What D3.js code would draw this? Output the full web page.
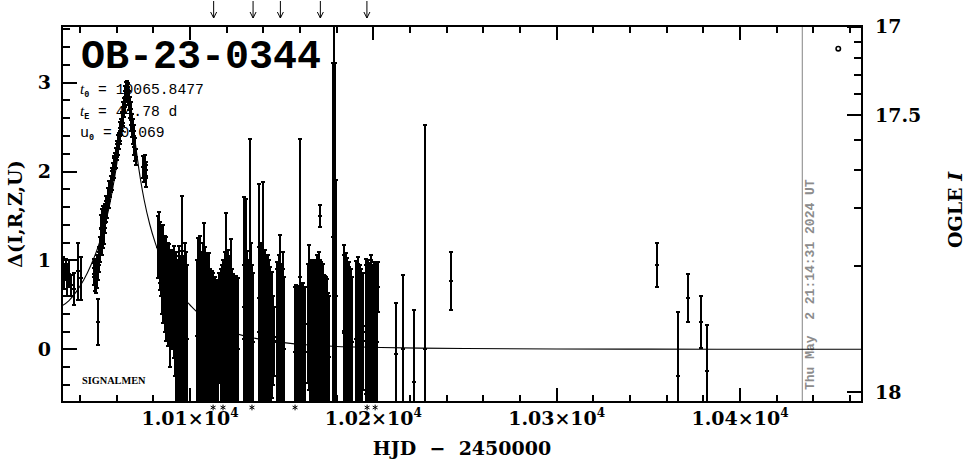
<!DOCTYPE html>
<html><head><meta charset="utf-8">
<script src="https://cdn.jsdelivr.net/npm/d3@7"></script>
<style>html,body{margin:0;padding:0;background:#fff;}svg{display:block;}</style>
</head><body><svg id="c" width="965" height="459"></svg>
<script>
// ---------------- data: [HJD-2450000, Delta, sigma] ----------------
const baselinePts = [[10030.5,0.88,0.16],[10031.3,0.82,0.14],[10032.2,0.90,0.12],[10033.0,0.78,0.18],[10033.9,0.85,0.15],[10035.0,0.72,0.12],[10036.6,0.68,0.18],[10038.9,0.88,0.32],[10040.7,0.80,0.24]];
const preRise = [[10047.6,0.85,0.12],[10047.9,0.92,0.10],[10048.2,0.80,0.14],[10048.5,0.88,0.11],[10048.8,0.76,0.12],[10049.1,0.95,0.11],[10049.4,0.84,0.15],[10049.7,0.31,0.26],[10050.0,0.90,0.12],[10050.3,0.98,0.11],[10050.6,1.05,0.10]];
const rising = [[10050.9,1.12,0.14],[10051.3,1.22,0.15],[10051.6,1.35,0.16],[10051.9,1.18,0.12],[10052.2,1.40,0.18],[10052.5,1.28,0.14],[10052.8,1.45,0.16],[10053.1,1.33,0.15],[10053.4,1.50,0.14],[10053.7,1.42,0.11],[10054.0,1.55,0.12],[10054.4,1.62,0.11],[10054.8,1.60,0.12],[10055.2,1.70,0.11],[10055.6,1.68,0.09],[10056.0,1.78,0.11],[10056.4,1.80,0.09],[10056.8,1.86,0.09],[10057.2,1.90,0.11],[10057.6,1.95,0.09],[10058.0,2.00,0.09],[10058.4,2.04,0.11],[10058.8,2.08,0.09],[10059.2,2.12,0.09],[10059.6,2.15,0.11],[10060.0,2.22,0.09],[10060.4,2.25,0.09],[10060.8,2.30,0.11],[10061.2,2.34,0.09],[10061.6,2.40,0.09],[10062.0,2.45,0.11],[10062.4,2.50,0.09],[10062.8,2.56,0.11],[10063.2,2.62,0.11],[10063.6,2.66,0.12],[10064.0,2.72,0.11],[10064.4,2.78,0.12],[10064.8,2.84,0.12],[10065.2,2.90,0.11],[10065.5,2.94,0.08]];
const falling = [[10066.0,2.92,0.08],[10066.4,2.85,0.10],[10066.8,2.80,0.11],[10067.2,2.72,0.12],[10067.6,2.65,0.13],[10068.0,2.58,0.12],[10068.4,2.52,0.13],[10068.8,2.45,0.14],[10069.2,2.40,0.12],[10069.6,2.32,0.14],[10070.0,2.25,0.13],[10070.5,2.16,0.09]];
const lateFall = [[10074.6,2.05,0.12],[10075.0,1.98,0.10],[10075.4,2.10,0.08],[10075.8,1.95,0.12],[10076.2,2.02,0.09]];
const c1 = [[10082.6,1.15,0.35],[10083.0,1.25,0.30],[10083.4,1.05,0.30],[10083.8,1.05,0.38],[10084.2,0.95,0.35],[10084.6,0.90,0.50],[10085.0,0.90,0.35],[10085.4,0.85,0.55],[10085.8,0.82,0.38],[10086.2,0.74,0.54],[10086.6,0.75,0.40],[10087.0,0.68,0.58],[10087.4,0.70,0.40],[10087.8,0.62,0.58],[10088.2,0.65,0.40],[10088.6,0.66,0.52],[10089.0,0.40,0.60],[10089.4,0.71,0.41],[10089.8,0.58,0.48],[10090.2,0.48,0.48],[10090.6,0.68,0.43],[10091.0,0.45,0.55],[10091.4,0.68,0.48],[10091.8,0.32,0.62],[10092.2,0.45,0.60],[10092.6,0.22,0.88],[10093.0,0.42,0.52],[10093.4,0.15,0.85],[10093.8,0.38,0.78],[10094.2,0.08,0.83],[10094.6,0.20,0.85],[10095.0,0.08,0.88],[10095.4,0.51,1.21],[10095.8,0.18,0.93],[10096.2,0.20,0.85],[10096.6,0.08,0.88],[10097.0,0.25,0.95],[10097.4,0.12,0.88],[10097.8,0.22,0.88],[10098.2,0.12,0.83]];
const c2 = [[10103.8,0.15,0.85],[10104.2,0.30,0.95],[10104.6,0.08,0.88],[10105.0,0.18,0.88],[10105.4,0.26,1.01],[10105.8,0.12,0.78],[10106.2,0.15,0.95],[10106.6,0.14,0.84],[10107.0,0.22,0.98],[10107.4,0.36,1.06],[10107.8,0.10,0.90],[10108.2,0.25,0.90],[10108.6,0.10,0.85],[10109.0,0.19,0.89],[10109.4,0.06,0.86],[10109.8,0.20,0.85],[10110.2,0.06,0.82],[10110.6,0.19,0.89],[10111.0,0.05,0.85],[10111.4,0.10,0.75],[10111.8,0.06,0.82],[10112.2,0.05,0.75],[10112.6,0.03,0.83],[10113.0,0.05,0.70],[10113.4,0.03,0.79],[10113.8,0.01,0.71],[10114.2,-0.01,0.79],[10114.6,0.03,0.68],[10115.0,0.03,0.73],[10115.6,0.24,0.62],[10117.0,0.10,0.80]];
const c3 = [[10117.6,0.12,0.83],[10118.0,0.12,0.88],[10118.4,0.04,0.84],[10118.8,0.14,0.78],[10119.2,0.20,0.90],[10119.6,0.36,1.17],[10120.0,0.15,0.90],[10120.4,0.14,0.84],[10120.8,0.24,0.88],[10121.2,0.08,0.88],[10121.6,0.15,0.85],[10122.0,0.15,0.90],[10122.4,0.27,0.97],[10122.8,0.05,0.85],[10123.2,0.10,0.75],[10123.6,0.04,0.79],[10124.0,0.05,0.75],[10124.4,0.01,0.81],[10124.8,0.07,0.72],[10125.2,0.04,0.79],[10125.6,0.03,0.73],[10126.0,0.00,0.80]];
const c4 = [[10129.2,0.12,0.83],[10129.6,0.48,1.23],[10130.0,0.12,0.93],[10130.4,0.52,1.17],[10130.8,0.10,0.80],[10131.2,0.18,0.93],[10131.6,0.08,0.88],[10132.0,0.15,0.85],[10132.4,0.12,0.77],[10132.9,0.83,1.53],[10133.3,0.20,1.00],[10133.7,0.10,0.85],[10134.1,0.08,0.78]];
const c5 = [[10137.4,0.58,1.28],[10137.8,0.20,0.95],[10138.2,0.12,0.93],[10138.6,0.25,0.95],[10139.0,0.22,0.88],[10139.4,0.20,0.95],[10139.9,0.59,1.29],[10140.3,0.10,0.90],[10140.7,0.21,0.91],[10141.1,0.10,0.85],[10141.5,0.20,0.85],[10141.9,0.08,0.88],[10142.3,0.18,0.88],[10142.7,0.08,0.83],[10143.1,0.15,0.85],[10143.5,0.02,0.83],[10143.9,0.14,0.79],[10144.3,0.05,0.75],[10144.8,0.16,0.71],[10145.3,0.10,0.50],[10145.9,0.09,0.39]];
const c6 = [[10147.2,0.14,0.84],[10147.6,0.08,0.83],[10148.0,0.08,0.88],[10148.4,0.18,0.88],[10148.9,0.27,1.02],[10149.3,0.14,0.79],[10149.7,0.03,0.83],[10150.1,0.13,0.83],[10150.5,0.17,0.92],[10150.9,0.10,0.80],[10151.4,0.01,0.81]];
const c7 = [[10157.2,-0.03,0.73],[10157.6,0.01,0.71],[10158.0,-0.06,0.74],[10158.4,0.03,0.68],[10158.8,-0.05,0.70],[10159.2,0.00,0.70],[10159.6,-0.06,0.74],[10160.1,0.81,1.56],[10160.5,0.01,0.71],[10160.9,-0.05,0.71],[10161.3,-0.05,0.75],[10161.7,0.05,0.70],[10162.1,-0.01,0.69],[10162.5,-0.03,0.73]];
const c8 = [[10164.6,0.29,0.67],[10165.0,0.36,0.81],[10165.4,0.10,0.80],[10165.8,0.13,0.88],[10166.2,0.08,0.88],[10166.6,0.15,0.85],[10167.0,0.09,0.84],[10167.4,0.18,0.83],[10167.8,0.04,0.84],[10168.2,0.15,0.85],[10168.6,0.05,0.80],[10169.0,0.13,0.83],[10169.4,0.13,0.93],[10169.8,0.13,0.78],[10170.2,0.17,0.92],[10170.6,0.13,0.83],[10170.9,1.50,0.12],[10171.0,0.10,0.90],[10171.4,0.14,0.84],[10171.8,0.08,0.83],[10172.2,0.11,0.76],[10172.6,0.08,0.88],[10173.0,0.07,0.77],[10173.4,0.04,0.79],[10173.8,0.05,0.75],[10174.2,0.01,0.81],[10174.7,0.07,0.72],[10175.2,-0.04,0.67],[10175.8,-0.08,0.68]];
const c9 = [[10178.1,1.26,1.96],[10178.6,1.70,2.50],[10179.1,1.24,1.98],[10179.5,0.60,1.30]];
const c10 = [[10183.8,0.18,0.88],[10184.2,0.21,0.96],[10184.6,0.10,0.90],[10185.0,0.19,0.89],[10185.4,0.10,0.85],[10185.8,0.19,0.84],[10186.2,0.05,0.85],[10186.6,0.14,0.84],[10187.0,0.09,0.84],[10187.4,0.08,0.78],[10187.8,0.05,0.85],[10188.2,0.08,0.73]];
const c11 = [[10190.6,0.12,0.87],[10191.0,0.10,0.80],[10191.4,0.08,0.88],[10191.8,0.17,0.87],[10192.2,0.07,0.82],[10192.6,0.15,0.80],[10193.0,0.03,0.83],[10193.4,0.10,0.80],[10193.8,0.03,0.78],[10194.3,0.20,0.66]];
const c12 = [[10195.8,0.26,0.76],[10196.2,0.10,0.85],[10196.6,0.10,0.80],[10197.0,0.10,0.90],[10197.4,0.11,0.81],[10197.8,0.11,0.86],[10198.2,0.12,0.77],[10198.6,0.10,0.90],[10199.0,0.18,0.88],[10199.4,0.10,0.85],[10199.8,0.10,0.80],[10200.2,0.09,0.89],[10200.6,0.14,0.79],[10201.0,0.10,0.85],[10201.4,0.09,0.79],[10201.8,0.08,0.88],[10202.6,0.70,0.28]];
const sparse = [[10212.2,-0.05,0.57],[10216.0,0.00,0.84],[10222.2,-0.36,0.80],[10228.2,0.00,2.52],[10242.2,0.77,0.33],[10354.9,0.95,0.25],[10366.0,-0.30,0.72],[10371.8,0.58,0.27],[10378.7,0.31,0.29],[10382.2,-0.24,0.51]];

// model curve
const modelT = [10030.2,10034,10038,10042,10046,10050,10053,10056,10058,10060,10062,10063.5,10064.8,10065.8,10066.8,10068,10069.5,10071,10073,10075,10078,10081,10085,10090,10095,10100,10105,10110,10120,10130,10140,10150,10165,10180,10200,10225,10250,10300,10350,10400,10466.5];
const modelD = [0.49,0.55,0.65,0.78,0.95,1.16,1.36,1.61,1.83,2.08,2.40,2.66,2.85,2.90,2.86,2.69,2.43,2.19,1.91,1.68,1.41,1.20,0.98,0.77,0.61,0.50,0.40,0.33,0.22,0.15,0.11,0.08,0.05,0.034,0.025,0.015,0.012,0.006,0.004,0.003,0.002];

// markers
const belowHJD = [10112.6,10118.0,10133.8,10157.3,10196.6,10201.0];
const arrowHJD = [10112.9,10134.4,10149.3,10171.1,10196.5];
const stampHJD = 10434.0;
const stampText = "Thu May  2 21:14:31 2024 UT";
const circleMark = [10453.6,3.38];

// axes / labels
const xMajorTicks = [10100,10200,10300,10400];
const xMajorMantissa = ["1.01","1.02","1.03","1.04"];
const yMajorTicks = [0,1,2,3];
const magTicks = [17,17.1,17.2,17.3,17.4,17.5,17.6,17.7,17.8,17.9,18];
const magTickDelta = [3.629,3.455,3.275,3.084,2.871,2.635,2.354,2.017,1.590,0.938,-0.478];
const magLabels = ["17","17.5","18"];
const title = "OB-23-0344";
const paramT0 = "10065.8477", paramTE = "44.78", paramU0 = "0.069";

// ---------------- drawing ----------------
const svg = d3.select("#c");
svg.append("rect").attr("width",965).attr("height",459).attr("fill","#fff");
const P = {l:62,r:862,t:26,b:402};
const x = d3.scaleLinear().domain([10030.18,10466.55]).range([P.l,P.r]);
const y = d3.scaleLinear().domain([-0.59,3.635]).range([P.b,P.t]);

svg.append("defs").append("clipPath").attr("id","clip").append("rect")
  .attr("x",P.l).attr("y",P.t).attr("width",P.r-P.l).attr("height",P.b-P.t);

// gray timestamp line
svg.append("line").attr("x1",x(stampHJD)).attr("x2",x(stampHJD)).attr("y1",P.t).attr("y2",P.b)
  .attr("stroke","#999").attr("stroke-width",1.2);
svg.append("text").text(stampText)
  .attr("transform",`translate(${x(stampHJD)+11.5},390) rotate(-90)`)
  .attr("font-family","Liberation Mono").attr("font-weight","bold").attr("font-size",13)
  .attr("fill","#8c8c8c").style("white-space","pre");

// title & params
svg.append("text").text(title).attr("x",81).attr("y",68)
  .attr("font-family","Liberation Mono").attr("font-weight","bold").attr("font-size",40).attr("fill","#000");
function param(yb, sym, sub, val, symFont){
  const t = svg.append("text").attr("x",80).attr("y",yb).attr("font-family","Liberation Mono").attr("font-size",14.7).style("white-space","pre");
  t.append("tspan").text(sym).attr("font-family",symFont).attr("font-style",symFont==="Liberation Serif"?"italic":"normal").attr("font-size",15);
  t.append("tspan").text(sub).attr("font-size",8.5).attr("dy",3).attr("font-weight","bold");
  t.append("tspan").text(" = "+val).attr("dy",-3);
}
param(94,"t","0",paramT0,"Liberation Serif");
param(115.5,"t","E",paramTE+" d","Liberation Serif");
param(137,"u","0",paramU0,"Liberation Mono");

svg.append("text").text("SIGNALMEN").attr("x",82).attr("y",384)
  .attr("font-family","Liberation Serif").attr("font-weight","bold").attr("font-size",10.3);

// model
const dataG = svg.append("g").attr("clip-path","url(#clip)");
dataG.append("path").datum(modelT.map((t,i)=>[t,modelD[i]]))
  .attr("d",d3.line().x(d=>x(d[0])).y(d=>y(d[1])).curve(d3.curveMonotoneX))
  .attr("fill","none").attr("stroke","#000").attr("stroke-width",1.1);

// error bars
const pts = [].concat(baselinePts,preRise,rising,falling,lateFall,c1,c2,c3,c4,c5,c6,c7,c8,c9,c10,c11,c12,sparse);
dataG.selectAll("path.pt").data(pts).join("path").attr("class","pt")
  .attr("d",([t,d,e])=>{
    const px=x(t), yt=y(d+e), yb=y(d-e), yc=y(d);
    return `M${px},${yt}V${yb}M${px-2},${yt}H${px+2}M${px-2},${yb}H${px+2}M${px-2},${yc}H${px+2}`;
  })
  .attr("fill","none").attr("stroke","#000").attr("stroke-width",2).attr("shape-rendering","crispEdges");

// circle marker
svg.append("circle").attr("cx",x(circleMark[0])).attr("cy",y(circleMark[1])).attr("r",2.2)
  .attr("fill","#fff").attr("stroke","#000").attr("stroke-width",1.6);

// frame
svg.append("rect").attr("x",P.l).attr("y",P.t).attr("width",P.r-P.l).attr("height",P.b-P.t)
  .attr("fill","none").attr("stroke","#000").attr("stroke-width",2).attr("shape-rendering","crispEdges");

const tk = svg.append("g").attr("stroke","#000").attr("stroke-width",2).attr("shape-rendering","crispEdges");
// x ticks
d3.range(10040,10461,20).forEach(t=>{
  const L = xMajorTicks.includes(t)?14:7;
  tk.append("line").attr("x1",x(t)).attr("x2",x(t)).attr("y1",P.b).attr("y2",P.b-L);
  tk.append("line").attr("x1",x(t)).attr("x2",x(t)).attr("y1",P.t).attr("y2",P.t+L);
});
// left y ticks
d3.range(-2,19).map(i=>i/5).forEach(v=>{
  const L = yMajorTicks.includes(v)?15:7.5;
  tk.append("line").attr("x1",P.l).attr("x2",P.l+L).attr("y1",y(v)).attr("y2",y(v));
});
// right magnitude ticks
magTicks.forEach((m,i)=>{
  const L = (m===17||m===17.5||m===18)?15:8;
  tk.append("line").attr("x1",P.r).attr("x2",P.r-L).attr("y1",y(magTickDelta[i])).attr("y2",y(magTickDelta[i]));
});

const lab = {"font-family":"DejaVu Serif","font-weight":"bold","font-size":19};
function T(txt){const t=svg.append("text").text(txt);for(const k in lab)t.attr(k,lab[k]);return t;}
// x labels
xMajorTicks.forEach((t,i)=>{
  const e = svg.append("text").attr("x",x(t)).attr("y",425).attr("text-anchor","middle");
  for(const k in lab) e.attr(k,lab[k]);
  e.append("tspan").text(xMajorMantissa[i]+"×10");
  e.append("tspan").text("4").attr("font-size",12).attr("dy",-8);
});
// left labels
yMajorTicks.forEach(v=>{ T(String(v)).attr("x",51).attr("y",y(v)).attr("dy","0.36em").attr("text-anchor","end"); });
// right labels
magLabels.forEach(s=>{ const i = magTicks.indexOf(+s); T(s).attr("x",875).attr("y",y(magTickDelta[i])).attr("dy","0.36em"); });
// axis titles
T("HJD  −  2450000").attr("x",462).attr("y",455).attr("text-anchor","middle").style("white-space","pre");
T("Δ(I,R,Z,U)").attr("text-anchor","middle").attr("transform","translate(22,214) rotate(-90)");
const og = svg.append("text").attr("text-anchor","middle").attr("transform","translate(962,210) rotate(-90)").style("white-space","pre");
for(const k in lab) og.attr(k,lab[k]);
og.append("tspan").text("OGLE ");
og.append("tspan").text("I").attr("font-style","italic");

// asterisk markers below the axis (points off the bottom of the plot)
svg.append("g").selectAll("path").data(belowHJD).join("path")
  .attr("transform",t=>`translate(${x(t)},407.5)`)
  .attr("d",d3.symbol().type(d3.symbolAsterisk).size(22))
  .attr("fill","none").attr("stroke","#000").attr("stroke-width",1);
// arrows on top
const ar = svg.append("g").attr("stroke","#000").attr("stroke-width",1).attr("fill","none");
arrowHJD.forEach(t=>{
  const px = x(t);
  ar.append("path").attr("d",`M${px},1V18M${px-3},12L${px},18L${px+3},12`);
});
</script></body></html>
